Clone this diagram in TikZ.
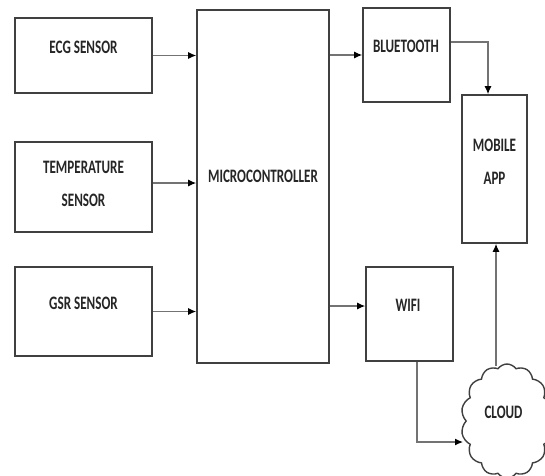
\documentclass[tikz,border=0pt]{standalone}
\usepackage{fontspec}
\setmainfont{Carlito}[FakeStretch=0.69]
\usetikzlibrary{shapes.symbols,arrows.meta,calc}
\begin{document}
\begin{tikzpicture}[x=1pt,y=-1pt,
  blk/.style={draw=black!75,line width=1.6pt,fill=white,inner sep=0pt},
  lbl/.style={font=\bfseries\fontsize{19}{33}\selectfont,text=black!85,align=center,inner sep=0pt},
  arr/.style={draw=black!55,line width=1.2pt,-{Latex[length=8pt,width=7pt,black]}}]
\useasboundingbox (0,0) rectangle (545,475);
\fill[white] (0,0) rectangle (545,475);
% blocks
\node[blk,minimum width=137pt,minimum height=75pt] (ecg) at (83.5,55.5) {};
\node[blk,minimum width=137pt,minimum height=90pt] (temp) at (83.5,187) {};
\node[blk,minimum width=137pt,minimum height=89pt] (gsr) at (83.5,311.5) {};
\node[blk,minimum width=132pt,minimum height=353pt] (mcu) at (263,186.5) {};
\node[blk,minimum width=87pt,minimum height=94pt] (bt) at (406.5,55) {};
\node[blk,minimum width=87pt,minimum height=94pt] (wifi) at (409.5,314) {};
\node[blk,minimum width=65pt,minimum height=148pt] (mob) at (494.5,169) {};
\node[cloud,cloud puffs=14,cloud puff arc=110,draw=black!75,line width=1.4pt,fill=white,
      minimum width=92pt,minimum height=114pt,inner sep=0pt] (cloud) at (507,421) {};
% labels
\node[lbl] (ecgt) at (83.5,47) {ECG SENSOR};
\node[lbl] (tempt) at (83.5,183.5) {TEMPERATURE\\SENSOR};
\node[lbl] (gsrt) at (83.5,303) {GSR SENSOR};
\node[lbl] (mcut) at (263,176) {MICROCONTROLLER};
\node[lbl] (btt) at (406,46) {BLUETOOTH};
\node[lbl] (wifit) at (408,305) {WIFI};
\node[lbl] (mobt) at (494.5,161.5) {MOBILE\\APP};
\node[lbl] (cloudt) at (503.5,412) {CLOUD};
% connectors
\coordinate (t1) at ($(temp.east)+(0,-4)$);
\coordinate (w1) at ($(wifi.west)+(0,-8)$);
\coordinate (b1) at ($(bt.east)+(0,-13)$);
\coordinate (c1) at ($(wifi.south)+(7.5,0)$);
\coordinate (c2) at (463,442);
\draw[arr] (ecg.east) -- (ecg.east -| mcu.west);
\draw[arr] (t1) -- (t1 -| mcu.west);
\draw[arr] (gsr.east) -- (gsr.east -| mcu.west);
\draw[arr] (mcu.east |- bt.west) -- (bt.west);
\draw[arr] (mcu.east |- w1) -- (w1);
\draw[arr] (b1) -| ($(mob.north)+(-6.5,0)$);
\draw[arr] ($(mob.south)+(1.5,122)$) -- ($(mob.south)+(1.5,0)$);
\draw[arr] (c1) |- (c2);
\end{tikzpicture}
\end{document}
